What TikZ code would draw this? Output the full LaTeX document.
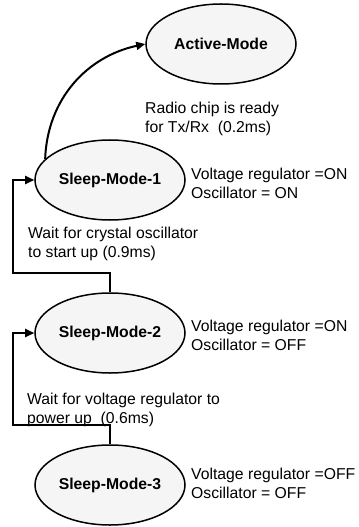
\documentclass[tikz,border=0pt]{standalone}
\usepackage{fontspec}
\setmainfont{Liberation Sans}
\usetikzlibrary{shapes.geometric,arrows.meta}
\begin{document}
\begin{tikzpicture}[x=1bp,y=-1bp,
  state/.style={ellipse, draw, line width=1.5bp, fill=gray!8, minimum width=150bp, minimum height=80bp, inner sep=0pt, font=\fontsize{15.8}{19}\selectfont\bfseries},
  lbl/.style={align=left, inner sep=0pt, anchor=west, font=\fontsize{15.8}{19}\selectfont},
  conn/.style={line width=2bp, -{Triangle[length=9bp,width=8bp]}}]
\useasboundingbox (0,0) rectangle (358,527);
\node[state] (A) at (221,44) {Active-Mode};
\node[state] (S1) at (110,180) {Sleep-Mode-1};
\node[state] (S2) at (110,333) {Sleep-Mode-2};
\node[state] (S3) at (110,485) {Sleep-Mode-3};
\node[lbl] (lr) at (145,119) {Radio chip is ready\\for Tx/Rx\ \ (0.2ms)};
\node[lbl] (l1) at (191,183) {Voltage regulator =ON\\Oscillator = ON};
\node[lbl] (l2) at (191,335) {Voltage regulator =ON\\Oscillator = OFF};
\node[lbl] (l3) at (191,483) {Voltage regulator =OFF\\Oscillator = OFF};
\node[lbl] (w1) at (28,244) {Wait for crystal oscillator\\to start up (0.9ms)};
\node[lbl] (w2) at (27,410) {Wait for voltage regulator to\\power up\ \ (0.6ms)};
\coordinate (k1) at (13,273);
\coordinate (k2) at (13,425);
\draw[conn] (S1.162) to[out=88, in=192] (A.west);
\draw[conn] (S2.north) |- (k1) |- (S1.west);
\draw[conn] (S3.north) |- (k2) |- (S2.west);
\end{tikzpicture}
\end{document}
